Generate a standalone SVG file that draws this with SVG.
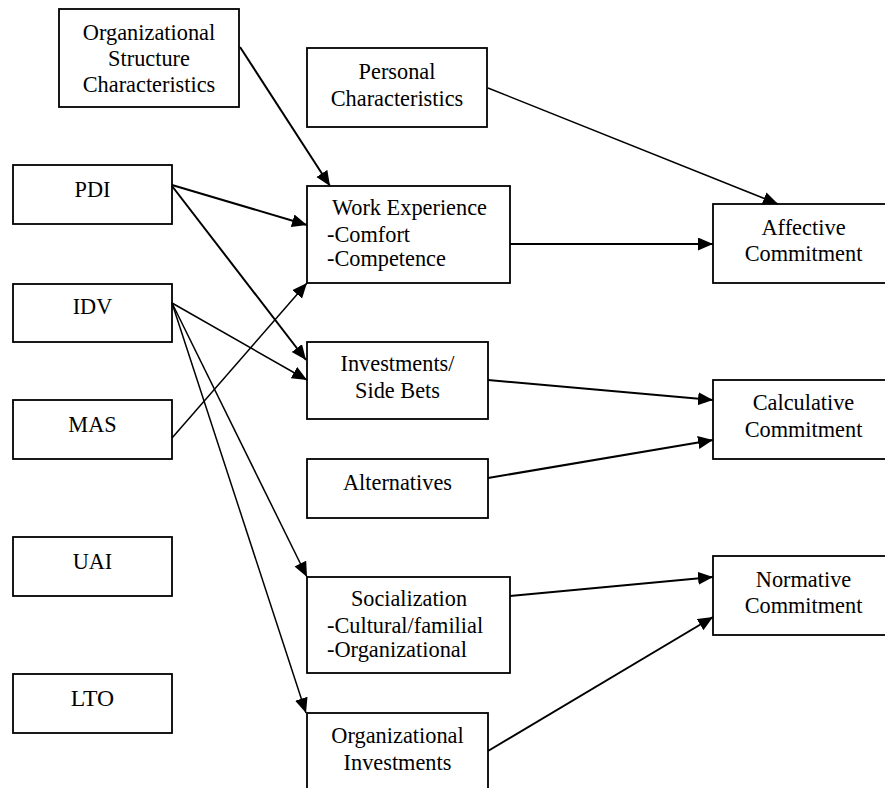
<svg xmlns="http://www.w3.org/2000/svg" width="885" height="788" viewBox="0 0 885 788">
<style>
.box{fill:#fff;stroke:#000;stroke-width:1.8}
text{font-family:"Liberation Serif","DejaVu Serif","Times New Roman",serif;font-size:22.3px;fill:#000}
.c{text-anchor:middle}
.e{stroke:#000;fill:none}
.t{stroke-width:2}
.n{stroke-width:1.5}
</style>
<defs>
<marker id="ah" markerUnits="userSpaceOnUse" markerWidth="16" markerHeight="14" refX="15" refY="6.5" orient="auto">
<path d="M0,0 L15,6.5 L0,13 z" fill="#000"/>
</marker>
</defs>
<rect width="885" height="788" fill="#fff"/>
<g id="n-org-structure"><rect class="box" x="59" y="9" width="180" height="98"/>
<text class="c" x="149" y="40" textLength="132.5" lengthAdjust="spacingAndGlyphs">Organizational</text><text class="c" x="149" y="66" textLength="81.8" lengthAdjust="spacingAndGlyphs">Structure</text><text class="c" x="149" y="92" textLength="132.5" lengthAdjust="spacingAndGlyphs">Characteristics</text></g>
<g id="n-personal"><rect class="box" x="307" y="48" width="180" height="79"/>
<text class="c" x="397" y="79" textLength="76.8" lengthAdjust="spacingAndGlyphs">Personal</text><text class="c" x="397" y="106" textLength="132.5" lengthAdjust="spacingAndGlyphs">Characteristics</text></g>
<g id="n-pdi"><rect class="box" x="13" y="165" width="159" height="59"/><text class="c" x="92.5" y="197" textLength="35.9" lengthAdjust="spacingAndGlyphs">PDI</text></g>
<g id="n-idv"><rect class="box" x="13" y="284" width="159" height="58"/><text class="c" x="92.5" y="314" textLength="39.6" lengthAdjust="spacingAndGlyphs">IDV</text></g>
<g id="n-mas"><rect class="box" x="13" y="400" width="159" height="59"/><text class="c" x="92.5" y="432" textLength="48.3" lengthAdjust="spacingAndGlyphs">MAS</text></g>
<g id="n-uai"><rect class="box" x="13" y="537" width="159" height="59"/><text class="c" x="92.5" y="569" textLength="39.6" lengthAdjust="spacingAndGlyphs">UAI</text></g>
<g id="n-lto"><rect class="box" x="13" y="674" width="159" height="59"/><text class="c" x="92.5" y="706" textLength="43.4" lengthAdjust="spacingAndGlyphs">LTO</text></g>
<g id="n-work"><rect class="box" x="307" y="186" width="203" height="97"/>
<text x="332" y="215" textLength="155" lengthAdjust="spacingAndGlyphs">Work Experience</text><text x="327" y="242" textLength="83" lengthAdjust="spacingAndGlyphs">-Comfort</text><text x="327" y="266" textLength="118.9" lengthAdjust="spacingAndGlyphs">-Competence</text></g>
<g id="n-invest"><rect class="box" x="307" y="342" width="181" height="77"/>
<text class="c" x="397.5" y="371" textLength="114" lengthAdjust="spacingAndGlyphs">Investments/</text><text class="c" x="397.5" y="398" textLength="84.9" lengthAdjust="spacingAndGlyphs">Side Bets</text></g>
<g id="n-alt"><rect class="box" x="307" y="459" width="181" height="59"/><text class="c" x="397.5" y="490" textLength="109" lengthAdjust="spacingAndGlyphs">Alternatives</text></g>
<g id="n-social"><rect class="box" x="307" y="577" width="203" height="96"/>
<text class="c" x="409" y="606" textLength="116" lengthAdjust="spacingAndGlyphs">Socialization</text><text x="327" y="633" textLength="156.1" lengthAdjust="spacingAndGlyphs">-Cultural/familial</text><text x="327" y="657" textLength="140" lengthAdjust="spacingAndGlyphs">-Organizational</text></g>
<g id="n-orginv"><rect class="box" x="307" y="713" width="181" height="90"/>
<text class="c" x="397.5" y="743" textLength="132.5" lengthAdjust="spacingAndGlyphs">Organizational</text><text class="c" x="397.5" y="770" textLength="107.8" lengthAdjust="spacingAndGlyphs">Investments</text></g>
<g id="n-affective"><rect class="box" x="713" y="204" width="182" height="79"/>
<text class="c" x="803.5" y="235" textLength="84.2" lengthAdjust="spacingAndGlyphs">Affective</text><text class="c" x="803.5" y="261" textLength="117.7" lengthAdjust="spacingAndGlyphs">Commitment</text></g>
<g id="n-calc"><rect class="box" x="713" y="380" width="182" height="79"/>
<text class="c" x="803.5" y="410" textLength="101.6" lengthAdjust="spacingAndGlyphs">Calculative</text><text class="c" x="803.5" y="437" textLength="117.7" lengthAdjust="spacingAndGlyphs">Commitment</text></g>
<g id="n-norm"><rect class="box" x="713" y="556" width="182" height="79"/>
<text class="c" x="803.5" y="587" textLength="95.4" lengthAdjust="spacingAndGlyphs">Normative</text><text class="c" x="803.5" y="613" textLength="117.7" lengthAdjust="spacingAndGlyphs">Commitment</text></g>
<g id="connectors">
<line class="e t" x1="240" y1="47" x2="330" y2="186" marker-end="url(#ah)"/>
<line class="e n" x1="488" y1="88" x2="778" y2="204" marker-end="url(#ah)"/>
<line class="e t" x1="172" y1="185" x2="307" y2="225" marker-end="url(#ah)"/>
<line class="e t" x1="172" y1="186" x2="306" y2="360" marker-end="url(#ah)"/>
<line class="e n" x1="172" y1="303" x2="307" y2="380" marker-end="url(#ah)"/>
<line class="e n" x1="172" y1="438" x2="307" y2="283" marker-end="url(#ah)"/>
<line class="e n" x1="172" y1="303" x2="307" y2="577" marker-end="url(#ah)"/>
<line class="e n" x1="172" y1="303" x2="306" y2="713" marker-end="url(#ah)"/>
<line class="e t" x1="510" y1="244" x2="713" y2="244" marker-end="url(#ah)"/>
<line class="e t" x1="488" y1="380" x2="713" y2="400" marker-end="url(#ah)"/>
<line class="e t" x1="488" y1="478" x2="713" y2="440" marker-end="url(#ah)"/>
<line class="e t" x1="510" y1="596" x2="713" y2="577" marker-end="url(#ah)"/>
<line class="e t" x1="488" y1="751" x2="713" y2="617" marker-end="url(#ah)"/>
</g>
</svg>
